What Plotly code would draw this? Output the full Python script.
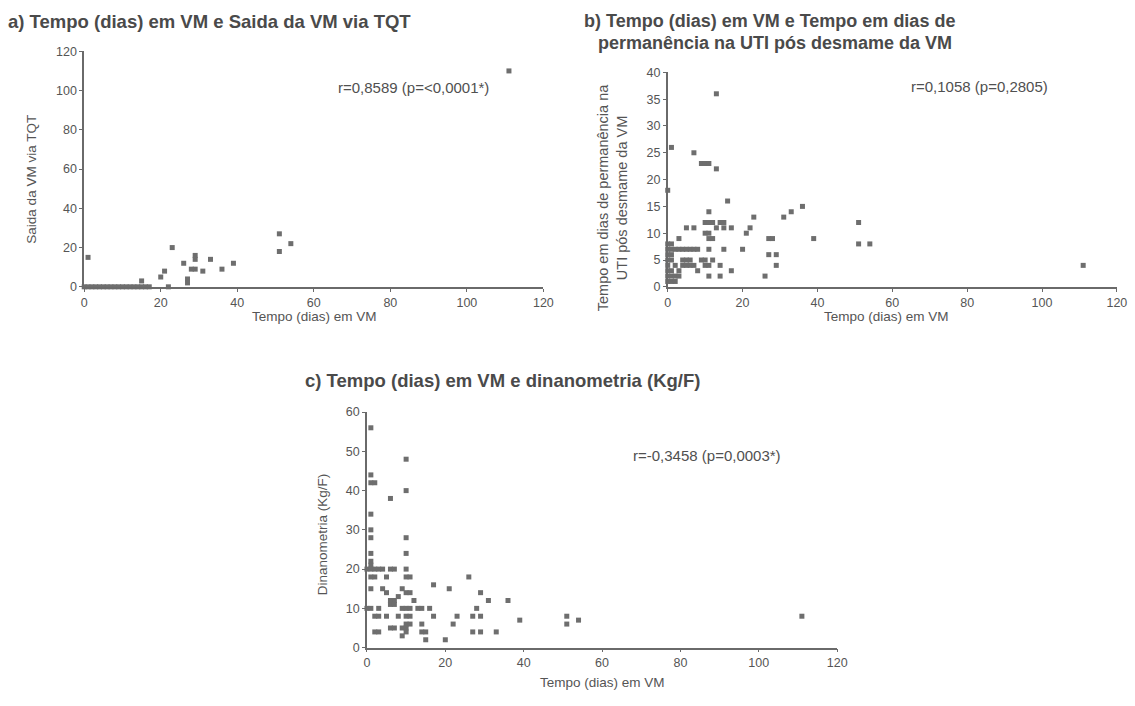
import plotly.graph_objects as go

W, H = 1135, 706

# ---------- data ----------
# Panel a: Tempo (dias) em VM vs Saida da VM via TQT
a_x = [0, 1, 2, 3, 4, 5, 6, 7, 8, 9, 10, 11, 12, 13, 14, 15, 16, 17,
       1, 15, 20, 21, 22, 23, 26, 27, 27, 28, 29, 29, 29, 31, 33, 36, 39, 51, 51, 54, 111]
a_y = [0, 0, 0, 0, 0, 0, 0, 0, 0, 0, 0, 0, 0, 0, 0, 0, 0, 0,
       15, 3, 5, 8, 0, 20, 12, 4, 2, 9, 9, 16, 14, 8, 14, 9, 12, 27, 18, 22, 110]

# Panel b: Tempo (dias) em VM vs permanencia na UTI pos desmame
b_x = [13, 1, 7, 9, 10, 11, 13, 0, 16, 36, 33, 11, 31, 23,
       51, 10, 11, 12, 14, 15, 13, 5, 7, 15, 17, 22,
       10, 11, 21, 3, 11, 12, 27, 28, 39,
       0, 1, 51, 54,
       0, 1, 2, 3, 4, 5, 6, 7, 8, 11, 15, 20,
       0, 1, 27, 29,
       0, 1, 4, 5, 6, 9, 10, 12,
       0, 2, 4, 5, 6, 7, 10, 11, 14, 29, 111,
       0, 1, 3, 8, 17,
       0, 1, 2, 3, 11, 14, 26,
       0, 1, 2]
b_y = [36, 26, 25, 23, 23, 23, 22, 18, 16, 15, 14, 14, 13, 13,
       12, 12, 12, 12, 12, 12, 11, 11, 11, 11, 11, 11,
       10, 10, 10, 9, 9, 9, 9, 9, 9,
       8, 8, 8, 8,
       7, 7, 7, 7, 7, 7, 7, 7, 7, 7, 7, 7,
       6, 6, 6, 6,
       5, 5, 5, 5, 5, 5, 5, 5,
       4, 4, 4, 4, 4, 4, 4, 4, 4, 4, 4,
       3, 3, 3, 3, 3,
       2, 2, 2, 2, 2, 2, 2,
       1, 1, 1]

# Panel c: Tempo (dias) em VM vs dinanometria (Kg/F)
c_x = [1, 10, 1, 1, 2, 10, 6, 1, 1, 1, 10, 1, 10, 1, 1,
       0, 1, 2, 3, 4, 6, 7, 10,
       1, 2, 5, 10, 11, 26,
       17,
       1, 4, 9, 21,
       5, 10, 11, 29,
       8, 7, 6, 12, 31, 36,
       6, 7,
       0, 1, 3, 9, 10, 11, 13, 14, 16, 28,
       2, 3, 5, 8, 10, 11, 17, 23, 27, 29, 51, 111,
       39, 54,
       10, 11, 14, 22, 51,
       6, 7, 9, 10,
       2, 3, 10, 14, 15, 27, 29, 33,
       9,
       15, 20]
c_y = [56, 48, 44, 42, 42, 40, 38, 34, 30, 28, 28, 24, 24, 22, 21,
       20, 20, 20, 20, 20, 20, 20, 20,
       18, 18, 18, 18, 18, 18,
       16,
       15, 15, 15, 15,
       14, 14, 14, 14,
       13, 12, 12, 12, 12, 12,
       11, 11,
       10, 10, 10, 10, 10, 10, 10, 10, 10, 10,
       8, 8, 8, 8, 8, 8, 8, 8, 8, 8, 8, 8,
       7, 7,
       6, 6, 6, 6, 6,
       5, 5, 5, 5,
       4, 4, 4, 4, 4, 4, 4, 4,
       3,
       2, 2]

titles = ["a) Tempo (dias) em VM e Saida da VM via TQT",
          "b) Tempo (dias) em VM e Tempo em dias de",
          "permanência na UTI pós desmame da VM",
          "c) Tempo (dias) em VM e dinanometria (Kg/F)"]
stats = ["r=0,8589 (p=<0,0001*)", "r=0,1058 (p=0,2805)", "r=-0,3458 (p=0,0003*)"]
x_title = "Tempo (dias) em VM"
y_titles = ["Saida da VM via TQT",
            "Tempo em dias de permanência na<br>UTI pós desmame da VM",
            "Dinanometria (Kg/F)"]

# ---------- layout helpers (screen pixel -> paper fraction) ----------
def fx(p):
    return ((p - 4.0) / 0.986) / W

def fy(p):
    return 1 - ((p - 7.8) / 0.978) / H

FONT = "Liberation Sans, Arial, sans-serif"
AX_COLOR = "#6a6a6a"
TXT = "#555555"
MK = "#6e6e6e"

fig = go.Figure()

panels = [
    dict(x=a_x, y=a_y, xa="x", ya="y", xd=(85, 543), yd=(287, 52), yr=[0, 120], dt=20),
    dict(x=b_x, y=b_y, xa="x2", ya="y2", xd=(667, 1115), yd=(287, 73), yr=[0, 40], dt=5),
    dict(x=c_x, y=c_y, xa="x3", ya="y3", xd=(367, 836), yd=(647, 412), yr=[0, 60], dt=10),
]

for i, p in enumerate(panels):
    fig.add_trace(go.Scatter(
        x=p["x"], y=p["y"], mode="markers", xaxis=p["xa"], yaxis=p["ya"],
        marker=dict(symbol="square", size=5, color=MK),
        cliponaxis=False, showlegend=False, hoverinfo="x+y"))
    sfx = "" if i == 0 else str(i + 1)
    common = dict(showline=True, linecolor=AX_COLOR, linewidth=1.5, ticks="outside",
                  ticklen=3, tickwidth=1.2, tickcolor=AX_COLOR, showgrid=False,
                  zeroline=False, tickfont=dict(family=FONT, size=12.5, color=TXT))
    fig.layout["xaxis" + sfx] = dict(
        domain=[fx(p["xd"][0]), fx(p["xd"][1])], range=[0, 120], dtick=20,
        anchor="y" + sfx, **common)
    fig.layout["yaxis" + sfx] = dict(
        domain=[fy(p["yd"][0]), fy(p["yd"][1])], range=p["yr"], dtick=p["dt"],
        anchor="x" + sfx, **common)

ann = []
tfont = dict(family=FONT, size=18.5, color="#4a4a4a")
tfont2 = dict(family=FONT, size=18, color="#4a4a4a")
ann.append(dict(x=fx(7), y=fy(22), text="<b>" + titles[0] + "</b>", xanchor="left", yanchor="middle", font=tfont))
ann.append(dict(x=fx(582), y=fy(22), text="<b>" + titles[1] + "</b>", xanchor="left", yanchor="middle", font=tfont2))
ann.append(dict(x=fx(595), y=fy(44), text="<b>" + titles[2] + "</b>", xanchor="left", yanchor="middle", font=tfont2))
ann.append(dict(x=fx(303), y=fy(380), text="<b>" + titles[3] + "</b>", xanchor="left", yanchor="middle", font=tfont))

sfont = dict(family=FONT, size=15, color="#505050")
ann.append(dict(x=fx(336), y=fy(88), text=stats[0], xanchor="left", yanchor="middle", font=sfont))
ann.append(dict(x=fx(908), y=fy(87), text=stats[1], xanchor="left", yanchor="middle", font=sfont))
ann.append(dict(x=fx(630), y=fy(455), text=stats[2], xanchor="left", yanchor="middle", font=sfont))

afont = dict(family=FONT, size=13.5, color="#555555")
ann.append(dict(x=fx(315), y=fy(317), text=x_title, xanchor="center", yanchor="middle", font=afont))
ann.append(dict(x=fx(885), y=fy(317), text=x_title, xanchor="center", yanchor="middle", font=afont))
ann.append(dict(x=fx(602), y=fy(682), text=x_title, xanchor="center", yanchor="middle", font=afont))
ann.append(dict(x=fx(33), y=fy(180), text=y_titles[0], textangle=-90, xanchor="center", yanchor="middle", font=afont))
bfont = dict(family=FONT, size=14.5, color="#555555")
ann.append(dict(x=fx(612), y=fy(198), text=y_titles[1], textangle=-90, xanchor="center", yanchor="middle", font=bfont))
ann.append(dict(x=fx(323), y=fy(534), text=y_titles[2], textangle=-90, xanchor="center", yanchor="middle", font=afont))

for a in ann:
    a.update(xref="paper", yref="paper", showarrow=False)

fig.update_layout(width=W, height=H, margin=dict(l=0, r=0, t=0, b=0),
                  paper_bgcolor="white", plot_bgcolor="white", annotations=ann,
                  font=dict(family=FONT))

fig.write_html("out.html")
